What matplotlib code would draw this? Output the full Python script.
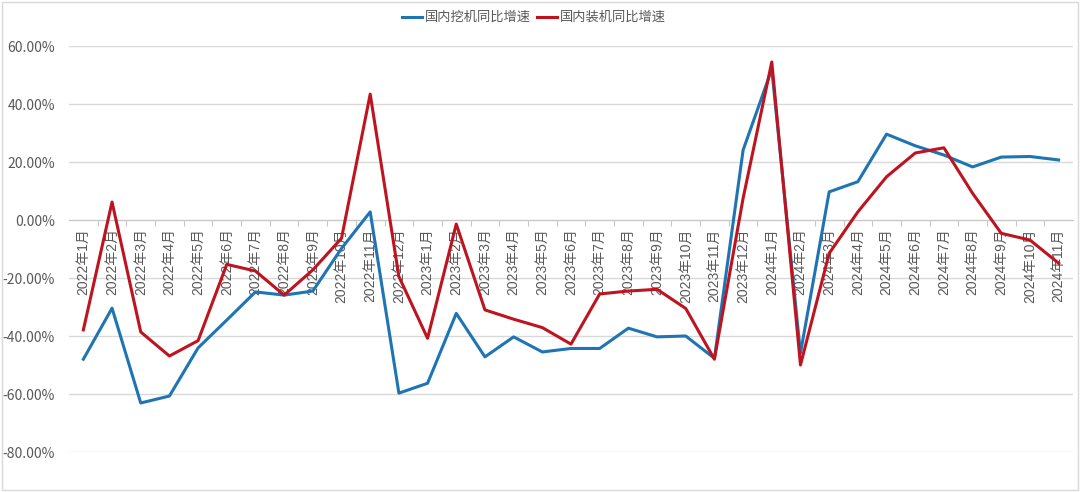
import matplotlib.pyplot as plt
import matplotlib.transforms as mtransforms
from matplotlib.patches import Rectangle

plt.rcParams['font.family'] = ['Noto Sans CJK SC', 'DejaVu Sans']

# months 2022-01 .. 2024-11
months = []
for y in [2022, 2023, 2024]:
    for m in range(1, 13):
        if y == 2024 and m > 11:
            break
        months.append(f"{y}年{m}月")

# 国内挖机同比增速 (%)
excavator = [-48.0, -30.4, -63.1, -60.7, -44.1, -34.5, -24.8, -25.9, -24.5, -9.8, 2.8, -59.7,
             -56.3, -32.2, -47.2, -40.3, -45.5, -44.3, -44.3, -37.3, -40.3, -40.0, -47.7, 24.1,
             52.0, -45.9, 9.7, 13.2, 29.6, 25.6, 22.4, 18.3, 21.7, 21.9, 20.7]
# 国内装机同比增速 (%)
loader = [-37.9, 6.2, -38.6, -46.9, -41.6, -15.3, -17.6, -25.9, -17.2, -6.3, 43.4, -19.5,
          -40.8, -1.4, -31.0, -34.2, -37.1, -42.8, -25.5, -24.5, -23.9, -30.5, -48.0, 7.5,
          54.5, -50.0, -11.5, 2.8, 14.9, 23.1, 24.9, 9.2, -4.6, -6.9, -14.9]

blue = '#1f74b3'
red = '#be1420'
gray = '#595959'

fig = plt.figure(figsize=(10.8, 4.92), dpi=100)
ax = fig.add_axes([0.0639, 0.0813, 0.9296, 0.8252])

x = list(range(len(months)))
ax.plot(x, excavator, color=blue, lw=2.2, label='国内挖机同比增速', zorder=3)
ax.plot(x, loader, color=red, lw=2.2, label='国内装机同比增速', zorder=4)

ax.set_xlim(-0.5, len(months) - 0.5)
ax.set_ylim(-80, 60)
yt = list(range(-80, 61, 20))
ax.set_yticks(yt)
ax.set_yticklabels([f"{v:.2f}%" for v in yt], color=gray, fontsize=10)
ax.tick_params(axis='y', length=0, pad=10)
ax.grid(axis='y', color='#d9d9d9', lw=1)
ax.set_axisbelow(True)
for s in ['top', 'right', 'left']:
    ax.spines[s].set_visible(False)
ax.spines['bottom'].set_position(('data', 0))
ax.spines['bottom'].set_color('#c8c8c8')

# category boundary ticks on the zero line
ax.set_xticks([i + 0.5 for i in range(len(months) - 1)])
ax.set_xticklabels([])
ax.tick_params(axis='x', direction='out', length=4, color='#c8c8c8')

# month labels hanging below the zero line
trans = mtransforms.offset_copy(ax.transData, fig=fig, y=-6, units='points')
for i, lab in enumerate(months):
    ax.text(i, 0, lab, rotation=90, ha='center', va='top', fontsize=10,
            family=['Liberation Sans', 'Noto Sans CJK SC'],
            color=gray, transform=trans, zorder=2)

ax.legend(loc='upper center', bbox_to_anchor=(0.463, 1.115), ncol=2, frameon=False,
          fontsize=9.5, handlelength=1.5, handletextpad=0.2, columnspacing=0.5,
          labelcolor=gray)

fig.patches.append(Rectangle((0.002, 0.004), 0.996, 0.992, transform=fig.transFigure,
                             fill=False, edgecolor='#d9d9d9', lw=1))

fig.savefig('out.png', dpi=100)
